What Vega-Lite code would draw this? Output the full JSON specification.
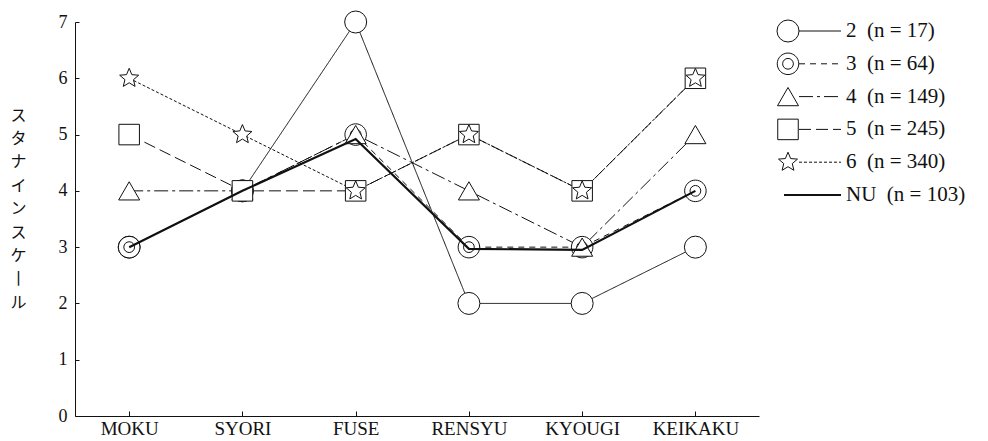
{
  "$schema": "https://vega.github.io/schema/vega-lite/v6.json",
  "background": "white",
  "padding": {"left": 9, "top": 9, "right": 0, "bottom": 0},
  "config": {"view": {"stroke": null}, "font": "Liberation Serif"},
  "spacing": 16,
  "datasets": {
    "scores": [
      {"group": "2", "area": "MOKU", "stanine": 3},
      {"group": "2", "area": "SYORI", "stanine": 4},
      {"group": "2", "area": "FUSE", "stanine": 7},
      {"group": "2", "area": "RENSYU", "stanine": 2},
      {"group": "2", "area": "KYOUGI", "stanine": 2},
      {"group": "2", "area": "KEIKAKU", "stanine": 3},
      {"group": "3", "area": "MOKU", "stanine": 3},
      {"group": "3", "area": "SYORI", "stanine": 4},
      {"group": "3", "area": "FUSE", "stanine": 5},
      {"group": "3", "area": "RENSYU", "stanine": 3},
      {"group": "3", "area": "KYOUGI", "stanine": 3},
      {"group": "3", "area": "KEIKAKU", "stanine": 4},
      {"group": "4", "area": "MOKU", "stanine": 4},
      {"group": "4", "area": "SYORI", "stanine": 4},
      {"group": "4", "area": "FUSE", "stanine": 5},
      {"group": "4", "area": "RENSYU", "stanine": 4},
      {"group": "4", "area": "KYOUGI", "stanine": 3},
      {"group": "4", "area": "KEIKAKU", "stanine": 5},
      {"group": "5", "area": "MOKU", "stanine": 5},
      {"group": "5", "area": "SYORI", "stanine": 4},
      {"group": "5", "area": "FUSE", "stanine": 4},
      {"group": "5", "area": "RENSYU", "stanine": 5},
      {"group": "5", "area": "KYOUGI", "stanine": 4},
      {"group": "5", "area": "KEIKAKU", "stanine": 6},
      {"group": "6", "area": "MOKU", "stanine": 6},
      {"group": "6", "area": "SYORI", "stanine": 5},
      {"group": "6", "area": "FUSE", "stanine": 4},
      {"group": "6", "area": "RENSYU", "stanine": 5},
      {"group": "6", "area": "KYOUGI", "stanine": 4},
      {"group": "6", "area": "KEIKAKU", "stanine": 6},
      {"group": "NU", "area": "MOKU", "stanine": 3},
      {"group": "NU", "area": "SYORI", "stanine": 4},
      {"group": "NU", "area": "FUSE", "stanine": 4.92},
      {"group": "NU", "area": "RENSYU", "stanine": 2.97},
      {"group": "NU", "area": "KYOUGI", "stanine": 2.95},
      {"group": "NU", "area": "KEIKAKU", "stanine": 4}
    ],
    "legendrows": [
      {"group": "2", "label": "2\u00a0\u00a0(n\u00a0=\u00a017)"},
      {"group": "3", "label": "3\u00a0\u00a0(n\u00a0=\u00a064)"},
      {"group": "4", "label": "4\u00a0\u00a0(n\u00a0=\u00a0149)"},
      {"group": "5", "label": "5\u00a0\u00a0(n\u00a0=\u00a0245)"},
      {"group": "6", "label": "6\u00a0\u00a0(n\u00a0=\u00a0340)"},
      {"group": "NU", "label": "NU\u00a0\u00a0(n\u00a0=\u00a0103)"}
    ]
  },
  "hconcat": [
    {
      "width": 684,
      "height": 394,
      "data": {"name": "scores"},
      "encoding": {
        "x": {
          "field": "area", "type": "ordinal",
          "sort": ["MOKU", "SYORI", "FUSE", "RENSYU", "KYOUGI", "KEIKAKU"],
          "scale": {"type": "point", "padding": 0.52, "align": 0.46},
          "axis": {"title": null, "labelAngle": 0, "labelFont": "Liberation Serif", "labelFontSize": 19, "labelColor": "#111", "domainColor": "#111", "tickColor": "#111", "tickSize": -5, "labelPadding": 8, "labelBaseline": "top", "grid": false}
        },
        "y": {
          "field": "stanine", "type": "quantitative",
          "scale": {"domain": [0, 7], "nice": false},
          "axis": {
            "title": ["ス", "タ", "ナ", "イ", "ン", "ス", "ケ", "丨", "ル"],
            "titleFont": "Noto Sans CJK JP", "titleFontSize": 16, "titleFontWeight": "normal",
            "titleAngle": 0, "titleAlign": "center", "titleBaseline": "middle",
            "titleX": -57, "titleY": 93, "titleLineHeight": 23.4, "titleColor": "#111",
            "values": [0, 1, 2, 3, 4, 5, 6, 7], "grid": false, "tickSize": -4, "labelPadding": 12,
            "labelFont": "Liberation Serif", "labelFontSize": 18, "labelColor": "#111",
            "domainColor": "#111", "tickColor": "#111"
          }
        }
      },
      "layer": [
        {
          "transform": [{"filter": "datum.group !== 'NU'"}],
          "mark": {"type": "line", "strokeWidth": 1, "color": "#111"},
          "encoding": {
            "detail": {"field": "group"},
            "strokeDash": {"field": "group", "type": "nominal", "scale": {"domain": ["2", "3", "4", "5", "6"], "range": [[1, 0], [6, 5], [14, 4, 3, 4], [12, 5], [3, 2]]}, "legend": null}
          }
        },
        {
          "transform": [{"filter": "datum.group !== 'NU'"}],
          "mark": {"type": "point", "filled": true, "fill": "white", "stroke": "#111", "strokeWidth": 1, "opacity": 1},
          "encoding": {
            "shape": {"field": "group", "type": "nominal", "scale": {"domain": ["2", "3", "4", "5", "6"], "range": ["circle", "M1,0A1,1,0,1,1,-1,0A1,1,0,1,1,1,0ZM0.5,0A0.5,0.5,0,1,1,-0.5,0A0.5,0.5,0,1,1,0.5,0Z", "triangle-up", "square", "M0,-1L0.265,-0.364L0.951,-0.309L0.428,0.139L0.588,0.809L0,0.45L-0.588,0.809L-0.428,0.139L-0.951,-0.309L-0.265,-0.364Z"]}, "legend": null},
            "size": {"field": "group", "type": "nominal", "scale": {"domain": ["2", "3", "4", "5", "6"], "range": [484, 400, 400, 361, 441]}, "legend": null}
          }
        },
        {
          "transform": [{"filter": "datum.group === 'NU'"}],
          "mark": {"type": "line", "strokeWidth": 2.2, "color": "#111"},
          "encoding": {}
        }
      ]
    },
    {
      "width": 200,
      "height": 394,
      "data": {"name": "legendrows"},
      "encoding": {
        "y": {"field": "group", "type": "nominal", "sort": ["2", "3", "4", "5", "6", "NU"], "scale": {"type": "point", "padding": 0, "range": [9, 173]}, "axis": null}
      },
      "layer": [
        {
          "transform": [{"filter": "datum.group !== 'NU'"}],
          "mark": {"type": "rule", "strokeWidth": 1, "color": "#111"},
          "encoding": {
            "x": {"datum": 11, "type": "quantitative", "scale": {"domain": [0, 100], "nice": false}, "axis": null},
            "x2": {"datum": 32},
            "strokeDash": {"field": "group", "type": "nominal", "scale": {"domain": ["2", "3", "4", "5", "6"], "range": [[1, 0], [7, 6], [4, 4, 14, 4], [12, 5], [3, 2]]}, "legend": null}
          }
        },
        {
          "transform": [{"filter": "datum.group !== 'NU'"}],
          "mark": {"type": "point", "filled": true, "fill": "white", "stroke": "#111", "strokeWidth": 1, "opacity": 1},
          "encoding": {
            "x": {"datum": 5.5, "type": "quantitative"},
            "shape": {"field": "group", "type": "nominal", "scale": {"domain": ["2", "3", "4", "5", "6"], "range": ["circle", "M1,0A1,1,0,1,1,-1,0A1,1,0,1,1,1,0ZM0.5,0A0.5,0.5,0,1,1,-0.5,0A0.5,0.5,0,1,1,0.5,0Z", "triangle-up", "square", "M0,-1L0.265,-0.364L0.951,-0.309L0.428,0.139L0.588,0.809L0,0.45L-0.588,0.809L-0.428,0.139L-0.951,-0.309L-0.265,-0.364Z"]}, "legend": null},
            "size": {"field": "group", "type": "nominal", "scale": {"domain": ["2", "3", "4", "5", "6"], "range": [484, 400, 400, 361, 441]}, "legend": null}
          }
        },
        {
          "transform": [{"filter": "datum.group === 'NU'"}],
          "mark": {"type": "rule", "strokeWidth": 2, "color": "#111"},
          "encoding": {"x": {"datum": 3.5, "type": "quantitative"}, "x2": {"datum": 32}}
        },
        {
          "mark": {"type": "text", "align": "left", "baseline": "middle", "font": "Liberation Serif", "fontSize": 21, "color": "#111"},
          "encoding": {"x": {"datum": 34.5, "type": "quantitative"}, "text": {"field": "label"}}
        }
      ]
    }
  ]
}
